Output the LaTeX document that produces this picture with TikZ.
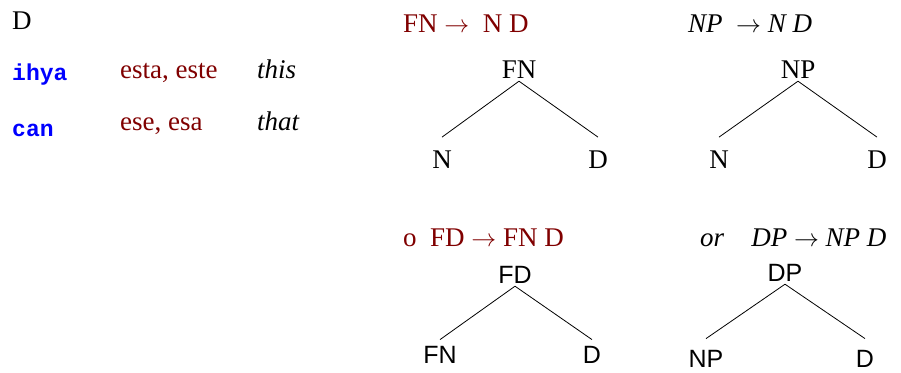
\documentclass[tikz,border=0pt]{standalone}
\usepackage{fontspec}
\setmainfont{Liberation Serif}
\setsansfont{Liberation Sans}
\setmonofont{Liberation Mono}
\definecolor{spanred}{RGB}{128,0,0}
\tikzset{
  word/.style={anchor=base west, inner sep=0pt, font=\fontsize{27}{30}\selectfont},
  nahuatl/.style={word, text=blue, font=\fontsize{23}{28}\selectfont\ttfamily\bfseries},
  spanish/.style={word, text=spanred},
  english/.style={word, font=\fontsize{27}{30}\selectfont\itshape},
  tnode/.style={anchor=base, inner xsep=0pt, inner ysep=3pt, font=\fontsize{27}{30}\selectfont},
  leaf/.style={anchor=base, inner sep=0pt, font=\fontsize{27}{30}\selectfont},
  snode/.style={tnode, font=\fontsize{25}{30}\selectfont\sffamily},
  sleaf/.style={leaf, font=\fontsize{25}{30}\selectfont\sffamily},
  branch/.style={line width=0.8pt}
}

\begin{document}
\begin{tikzpicture}[x=1pt, y=-1pt]
\useasboundingbox (0,0) rectangle (901,372);
% word list
\node[word] (head) at (12,29) {D};
\node[nahuatl] (ihya) at (12,80) {ihya};
\node[spanish] (esta) at (120,78) {esta, este};
\node[english] (this) at (257,78) {this};
\node[nahuatl] (can) at (12,136) {can};
\node[spanish] (ese) at (120,130) {ese, esa};
\node[english] (that) at (257,130) {that};
% rules
\node[spanish] (rule-fn) at (403,32) {FN $\rightarrow$\ \ N D};
\node[word] (rule-np) at (688,32) {\textit{NP}\ \ $\rightarrow$\ \textit{N D}};
\node[spanish] (rule-fd) at (403,246) {o\ \ FD $\rightarrow$ FN D};
\node[word] (rule-dp) at (700,246) {\textit{or}\ \ \ \ \textit{DP}\ $\rightarrow$\ \textit{NP D}};
% FN tree
\node[tnode] (fn) at (519,78) {FN};
\node[leaf] (fn-n) at (442,168) {N};
\node[leaf] (fn-d) at (598,168) {D};
\draw[branch] (fn.south) -- ([yshift=13pt]fn-n.north);
\draw[branch] (fn.south) -- ([yshift=13pt]fn-d.north);
% NP tree
\node[tnode] (np) at (798,78) {NP};
\node[leaf] (np-n) at (719,168) {N};
\node[leaf] (np-d) at (877,168) {D};
\draw[branch] (np.south) -- ([yshift=13pt]np-n.north);
\draw[branch] (np.south) -- ([yshift=13pt]np-d.north);
% FD tree
\node[snode] (fd) at (515,283) {FD};
\node[sleaf] (fd-fn) at (440,363) {FN};
\node[sleaf] (fd-d) at (592,363) {D};
\draw[branch] (fd.south) -- ([yshift=6pt]fd-fn.north);
\draw[branch] (fd.south) -- ([yshift=6pt]fd-d.north);
% DP tree
\node[snode] (dp) at (785,281) {DP};
\node[sleaf] (dp-np) at (706,367) {NP};
\node[sleaf] (dp-d) at (865,367) {D};
\draw[branch] (dp.south) -- ([yshift=11pt]dp-np.north);
\draw[branch] (dp.south) -- ([yshift=11pt]dp-d.north);
\end{tikzpicture}
\end{document}
